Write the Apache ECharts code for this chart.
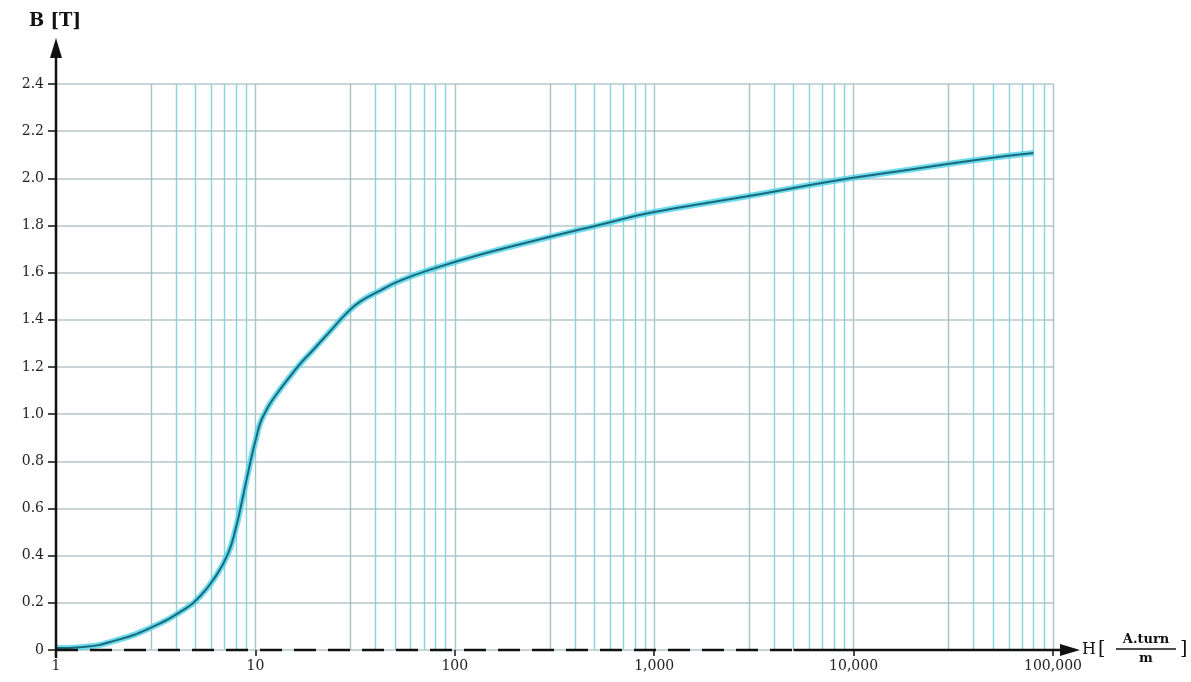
<!DOCTYPE html>
<html>
<head>
<meta charset="utf-8">
<script src="https://cdn.jsdelivr.net/npm/echarts@6.0.0/dist/echarts.min.js"></script>
<style>
html,body{margin:0;padding:0;background:#fff;}
#c{width:1191px;height:682px;}
</style>
</head>
<body>
<div id="c"></div>
<script>
// Field strength H [A.turn/m] and flux density B [T]
const H = [1, 1.37, 2.02, 2.96, 4.34, 5.28, 6.28, 7.3, 8.0, 8.48, 9.08, 9.73, 10.08, 10.56, 11.19, 11.85, 13.3, 14.93, 16.76, 19.26, 24.5, 28.2, 33.5, 42.2, 53.2, 78, 139, 301, 536, 956, 3035, 7925, 17180, 44800, 79800];
const B = [0.008, 0.013, 0.042, 0.093, 0.169, 0.228, 0.309, 0.41, 0.521, 0.614, 0.732, 0.846, 0.897, 0.961, 1.007, 1.045, 1.105, 1.16, 1.213, 1.268, 1.365, 1.422, 1.477, 1.524, 1.566, 1.617, 1.68, 1.752, 1.803, 1.854, 1.926, 1.989, 2.031, 2.082, 2.107];
const xTickLabels = ['1', '10', '100', '1,000', '10,000', '100,000'];
const minorMultipliers = [3, 4, 5, 6, 7, 8, 9];
const decades = [1, 10, 100, 1000, 10000];
const dashedUntilH = 5000;

const serif = '"DejaVu Serif","Liberation Serif",serif';
const points = H.map((h, i) => [h, B[i]]);

const minorLines = [];
decades.forEach(d => minorMultipliers.forEach(m => {
  minorLines.push({
    xAxis: d * m,
    lineStyle: { color: m === 3 ? '#a6c2c4' : '#8ad3dd', width: 1.4, type: 'solid' }
  });
}));

const chart = echarts.init(document.getElementById('c'), null, { renderer: 'canvas' });
chart.setOption({
  animation: false,
  backgroundColor: '#ffffff',
  grid: { left: 56, right: 138, top: 84, bottom: 32, containLabel: false },
  xAxis: {
    type: 'log', logBase: 10, min: 1, max: 100000,
    axisLine: { show: false },
    axisTick: { show: true, length: 6, lineStyle: { color: '#111', width: 1.5 } },
    axisLabel: {
      margin: 9, color: '#222', fontFamily: serif, fontSize: 14,
      formatter: v => xTickLabels[Math.round(Math.log10(v))]
    },
    splitLine: { show: true, lineStyle: { color: '#a8c6c8', width: 1.4 } },
    minorTick: { show: false }
  },
  yAxis: {
    type: 'value', min: 0, max: 2.4, interval: 0.2,
    axisLine: { show: false },
    axisTick: { show: true, length: 8, lineStyle: { color: '#111', width: 1.5 } },
    axisLabel: {
      margin: 12, color: '#222', fontFamily: serif, fontSize: 14,
      formatter: v => (v === 0 ? '0' : v.toFixed(1))
    },
    splitLine: { show: true, lineStyle: { color: '#b3c8c8', width: 1.5 } }
  },
  series: [
    {
      type: 'line', data: points, smooth: 0.5, showSymbol: false, silent: true,
      lineStyle: { color: '#55d3ea', width: 6, opacity: 0.85 },
      z: 3,
      markLine: {
        silent: true, symbol: 'none', label: { show: false },
        data: minorLines, z: 1, animation: false
      }
    },
    {
      type: 'line', data: points, smooth: 0.5, showSymbol: false, silent: true,
      lineStyle: { color: '#19697a', width: 2 },
      z: 4
    }
  ]
});

const p0 = chart.convertToPixel({ gridIndex: 0 }, [1, 0]);
const pTop = chart.convertToPixel({ gridIndex: 0 }, [1, 2.4]);
const pRight = chart.convertToPixel({ gridIndex: 0 }, [100000, 0]);
const pDash = chart.convertToPixel({ gridIndex: 0 }, [dashedUntilH, 0]);

const yTip = pTop[1] - 46;
const xEnd = pRight[0] + 7;
const xTip = pRight[0] + 27;

chart.setOption({
  graphic: [
    { type: 'line', shape: { x1: p0[0], y1: p0[1] + 8, x2: p0[0], y2: yTip + 16 }, style: { stroke: '#111', lineWidth: 2.5 }, z: 10 },
    { type: 'polygon', shape: { points: [[p0[0], yTip], [p0[0] - 6, yTip + 20], [p0[0] + 6, yTip + 20]] }, style: { fill: '#111' }, z: 10 },
    { type: 'line', shape: { x1: p0[0], y1: p0[1], x2: pDash[0], y2: p0[1] }, style: { stroke: '#111', lineWidth: 2.5, lineDash: [22, 12] }, z: 10 },
    { type: 'line', shape: { x1: pDash[0], y1: p0[1], x2: xEnd, y2: p0[1] }, style: { stroke: '#111', lineWidth: 2.5 }, z: 10 },
    { type: 'polygon', shape: { points: [[xTip, p0[1]], [xEnd, p0[1] - 6], [xEnd, p0[1] + 6]] }, style: { fill: '#111' }, z: 10 },
    { type: 'text', x: p0[0] - 1, y: yTip - 17, style: { text: 'B [T]', fill: '#111', font: 'bold 18px ' + serif, textAlign: 'center', textVerticalAlign: 'middle' }, z: 10 },
    { type: 'text', x: xTip + 2, y: p0[1], style: { text: 'H', fill: '#111', font: '16px ' + serif, textAlign: 'left', textVerticalAlign: 'middle' }, z: 10 },
    { type: 'text', x: xTip + 18, y: p0[1] - 1, style: { text: '[', fill: '#111', font: '19px ' + serif, textAlign: 'left', textVerticalAlign: 'middle' }, z: 10 },
    { type: 'text', x: xTip + 66, y: p0[1] - 10, style: { text: 'A.turn', fill: '#111', font: 'bold 13px ' + serif, textAlign: 'center', textVerticalAlign: 'middle' }, z: 10 },
    { type: 'line', shape: { x1: xTip + 36, y1: p0[1] - 1, x2: xTip + 96, y2: p0[1] - 1 }, style: { stroke: '#111', lineWidth: 1.3 }, z: 10 },
    { type: 'text', x: xTip + 66, y: p0[1] + 9, style: { text: 'm', fill: '#111', font: 'bold 13px ' + serif, textAlign: 'center', textVerticalAlign: 'middle' }, z: 10 },
    { type: 'text', x: xTip + 100, y: p0[1] - 1, style: { text: ']', fill: '#111', font: '19px ' + serif, textAlign: 'left', textVerticalAlign: 'middle' }, z: 10 }
  ]
});
</script>
</body>
</html>
